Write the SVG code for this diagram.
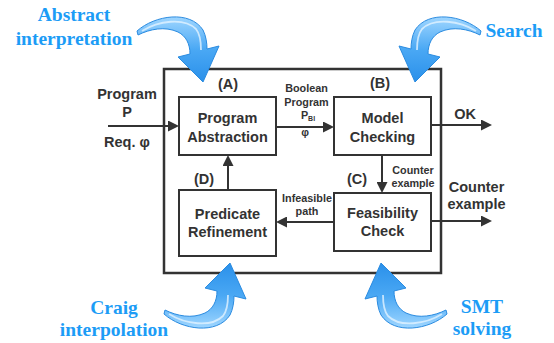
<svg xmlns="http://www.w3.org/2000/svg" xmlns:xlink="http://www.w3.org/1999/xlink" width="554" height="343" viewBox="0 0 554 343">
<style>
.t{font-family:"Liberation Sans",Arial,sans-serif;font-weight:bold;fill:#333;text-anchor:middle}
.big{font-size:14.5px}
.sm{font-size:10.8px}
.bl{font-family:"Liberation Serif","Times New Roman",serif;font-weight:bold;fill:#1c9cf6;font-size:19.5px;text-anchor:middle}
.box{fill:#fff;stroke:#333;stroke-width:2}
.con{fill:none;stroke:#333;stroke-width:2;marker-end:url(#ah)}
</style>
<defs>
<marker id="ah" viewBox="0 0 10 10" refX="8" refY="5" markerWidth="11" markerHeight="11" markerUnits="userSpaceOnUse" orient="auto"><path d="M0,0 L10,5 L0,10 z" fill="#333"/></marker>
<linearGradient id="bg" x1="0" y1="0" x2="0" y2="1">
<stop offset="0" stop-color="#9fd6ff"/>
<stop offset="0.5" stop-color="#4aa8f4"/>
<stop offset="1" stop-color="#2a90ea"/>
</linearGradient>
<g id="barrow">
<path d="M137,31 C155,15 190,10 203,30 C206,36 207,43 207,49 L219,46 L203,82 L178,57 L190,54 C190,44 186,36 178,32 C165,26 150,29 138,35 Z" fill="url(#bg)" stroke="#2a8be0" stroke-width="1" stroke-linejoin="round"/>
<path d="M142,31 C158,21 184,17 196,29 C200,34 201,42 201,50" fill="none" stroke="#e2f3ff" stroke-width="1.8" opacity="0.8"/>
</g>
</defs>

<g id="outer"><rect x="164" y="69" width="277" height="204" fill="none" stroke="#333" stroke-width="2.5"/></g>

<g id="connectors">
<path class="con" d="M108,126 L176.8,126"/>
<path class="con" d="M276,127 L331.8,127"/>
<path class="con" d="M228,190 L228,157.2"/>
<path class="con" d="M382,155 L382,190.8"/>
<path class="con" d="M334,222 L278.2,222"/>
<path class="con" d="M431,125 L489.8,125"/>
<path class="con" d="M430,221 L489.8,221"/>
</g>

<g id="nodeA">
<rect class="box" x="179" y="97" width="97" height="58"/>
<text class="t big" x="228" y="88.5">(A)</text>
<text class="t big" x="227.5" y="123">Program</text>
<text class="t big" x="227.5" y="141.5">Abstraction</text>
</g>
<g id="nodeB">
<rect class="box" x="334" y="97" width="97" height="58"/>
<text class="t big" x="380" y="88">(B)</text>
<text class="t big" x="382.5" y="123">Model</text>
<text class="t big" x="382.5" y="141.5">Checking</text>
</g>
<g id="nodeC">
<rect class="box" x="334" y="193" width="97" height="58"/>
<text class="t big" x="357" y="184">(C)</text>
<text class="t big" x="382.5" y="218">Feasibility</text>
<text class="t big" x="382.5" y="236">Check</text>
</g>
<g id="nodeD">
<rect class="box" x="179" y="190" width="97" height="66"/>
<text class="t big" x="204" y="184">(D)</text>
<text class="t big" x="227.5" y="219">Predicate</text>
<text class="t big" x="227.5" y="237">Refinement</text>
</g>

<g id="labels">
<text class="t sm" x="306.5" y="92">Boolean</text>
<text class="t sm" x="306.5" y="106">Program</text>
<text class="t sm" x="308" y="119">P<tspan font-size="7" dy="2">Bl</tspan></text>
<text class="t sm" x="305" y="136">φ</text>
<text class="t sm" x="413" y="174">Counter</text>
<text class="t sm" x="413" y="187">example</text>
<text class="t sm" x="307" y="202">Infeasible</text>
<text class="t sm" x="307" y="215">path</text>
<text class="t big" x="465" y="118.5">OK</text>
<text class="t big" x="476.5" y="192">Counter</text>
<text class="t big" x="476.5" y="209">example</text>
<text class="t big" x="127" y="98.5">Program</text>
<text class="t big" x="127" y="116.5">P</text>
<text class="t big" x="127" y="147">Req. φ</text>
</g>

<g id="ai">
<use xlink:href="#barrow"/>
<text class="bl" x="74" y="21">Abstract</text>
<text class="bl" x="74" y="44.5">interpretation</text>
</g>
<g id="search">
<use xlink:href="#barrow" transform="translate(618,0) scale(-1,1)"/>
<text class="bl" x="514" y="36.5">Search</text>
</g>
<g id="craig">
<use xlink:href="#barrow" transform="translate(27,345) scale(1,-1)"/>
<text class="bl" x="114" y="313.5">Craig</text>
<text class="bl" x="114" y="336">interpolation</text>
</g>
<g id="smt">
<use xlink:href="#barrow" transform="translate(584,345) scale(-1,-1)"/>
<text class="bl" x="482" y="312.5">SMT</text>
<text class="bl" x="482" y="335">solving</text>
</g>
</svg>
